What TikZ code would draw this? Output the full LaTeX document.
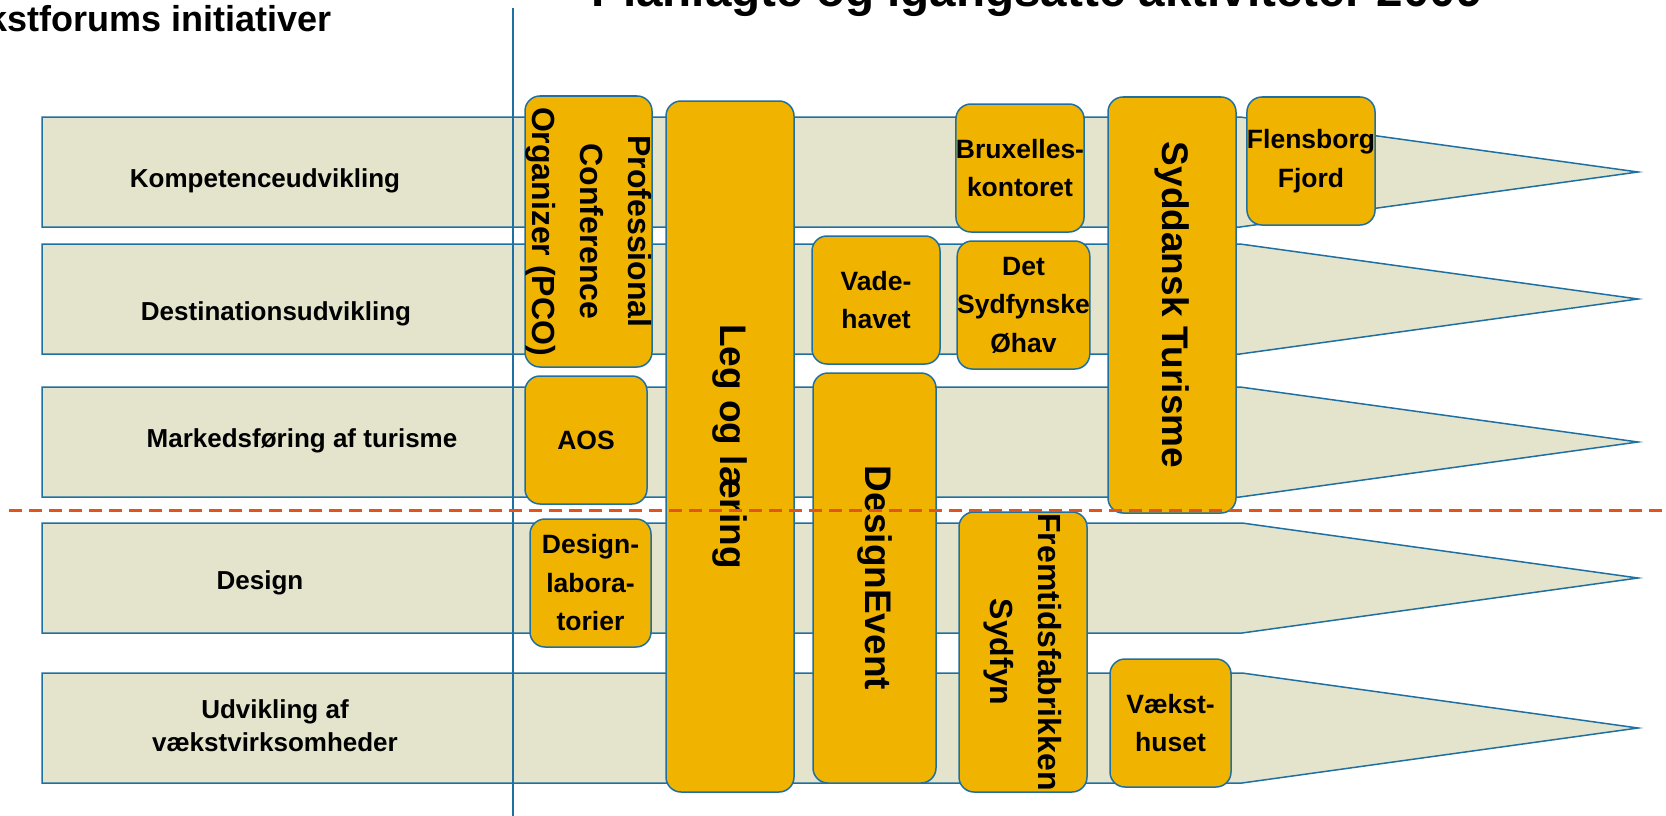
\documentclass[tikz,border=0pt]{standalone}
\usepackage{fontspec}
\setmainfont{Liberation Sans}
\definecolor{bandfill}{RGB}{228,228,205}
\definecolor{edgeblue}{RGB}{30,112,162}
\definecolor{boxyellow}{RGB}{240,180,0}
\definecolor{dashred}{RGB}{226,84,30}
\begin{document}
\begin{tikzpicture}[x=1pt,y=-1pt,
  band/.style={fill=bandfill, draw=edgeblue, line width=1.5pt, line join=miter},
  box/.style={draw=edgeblue, fill=boxyellow, line width=1.5pt, rounded corners=15pt,
    inner sep=0pt, align=center, font=\bfseries\fontsize{26.5}{38.5}\selectfont},
  bigtext/.style={font=\bfseries\fontsize{37}{44}\selectfont},
  pcotext/.style={font=\bfseries\fontsize{32}{48}\selectfont},
  lbl/.style={font=\bfseries\fontsize{26}{33}\selectfont, inner sep=0pt, align=center},
  divider/.style={draw=edgeblue, line width=2.8pt},
  splitline/.style={draw=dashred, line width=3pt, dash pattern=on 13pt off 7pt},
]
\useasboundingbox (0,0) rectangle (1666,816);

% bands
\path[band] (42,117) -- (1240,117) -- (1638,172) -- (1240,227) -- (42,227) -- cycle;
\path[band] (42,244) -- (1240,244) -- (1638,299) -- (1240,354) -- (42,354) -- cycle;
\path[band] (42,387) -- (1240,387) -- (1638,442) -- (1240,497) -- (42,497) -- cycle;
\path[band] (42,523) -- (1242,523) -- (1638,578) -- (1242,633) -- (42,633) -- cycle;
\path[band] (42,673) -- (1242,673) -- (1638,728) -- (1242,783) -- (42,783) -- cycle;

% band labels
\node[lbl, anchor=base] (l1) at (265,187) {Kompetenceudvikling};
\node[lbl, anchor=base] (l2) at (276,320) {Destinationsudvikling};
\node[lbl, anchor=base] (l3) at (302,447) {Markedsføring af turisme};
\node[lbl, anchor=base] (l4) at (260,589) {Design};
\node[lbl] (l5) at (275,726) {Udvikling af\\vækstvirksomheder};

% titles
\node[font=\bfseries\fontsize{36}{40}\selectfont, anchor=base west, inner sep=0pt] (tl) at (-13,32) {kstforums initiativer};
\node[font=\bfseries\fontsize{47.6}{52}\selectfont, anchor=base, inner sep=0pt] (tr) at (1037,7) {Planlagte og igangsatte aktiviteter 2009};

% vertical divider
\coordinate (vt) at (513,8);
\coordinate (vb) at (513,816);
\draw[divider] (vt) -- (vb);

% activity boxes
\node[box, pcotext, rotate=-90, minimum width=271pt, minimum height=127pt] (pco) at (588.5,231.5) {Professional\\Conference\\Organizer (PCO)};
\node[box, bigtext, rotate=-90, minimum width=691pt, minimum height=128pt] (leg) at (730,446.5) {Leg og læring};
\node[box, minimum width=122pt, minimum height=128pt] (aos) at (586,440) {AOS};
\node[box, minimum width=121pt, minimum height=128pt] (dlab) at (590.5,583) {Design-\\labora-\\torier};
\node[box, minimum width=128pt, minimum height=128pt] (vade) at (876,300) {Vade-\\havet};
\node[box, bigtext, rotate=-90, minimum width=410pt, minimum height=123pt] (devent) at (874.5,578) {DesignEvent};
\node[box, minimum width=122pt, minimum height=128pt] (brux) at (1020,168) {Bruxelles-\\kontoret};
\node[box, minimum width=121pt, minimum height=128pt] (ohav) at (1023.5,305) {Det\\Sydfynske\\Øhav};
\node[box, pcotext, rotate=-90, minimum width=280pt, minimum height=128pt] (fremtid) at (1023,652) {Fremtidsfabrikken\\Sydfyn};
\node[box, bigtext, rotate=-90, minimum width=416pt, minimum height=128pt] (sydt) at (1172,305) {Syddansk Turisme};
\node[box, minimum width=122pt, minimum height=128pt] (flens) at (1311,161) {Flensborg\\Fjord};
\node[box, minimum width=121pt, minimum height=128pt] (vhus) at (1170.5,723) {Vækst-\\huset};

% dashed split line
\coordinate (dl) at (9,510);
\coordinate (dr) at (1666,510);
\draw[splitline] (dl) -- (dr);
\end{tikzpicture}
\end{document}
